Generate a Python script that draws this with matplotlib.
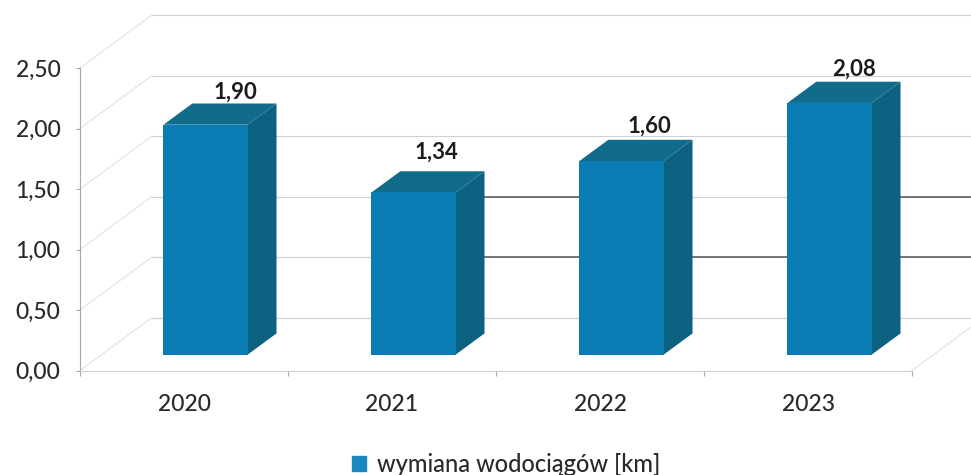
import matplotlib
matplotlib.use("Agg")
import matplotlib.pyplot as plt
from matplotlib.patches import Patch

plt.rcParams['font.family'] = ['Lato', 'DejaVu Sans']

years = ["2020", "2021", "2022", "2023"]
values = [1.90, 1.34, 1.60, 2.08]
value_labels = ["1,90", "1,34", "1,60", "2,08"]
y_ticks = [0.0, 0.5, 1.0, 1.5, 2.0, 2.5]
y_tick_labels = ["0,00", "0,50", "1,00", "1,50", "2,00", "2,50"]
legend_label = "wymiana wodociągów [km]"

# oblique projection, full depth of the plot in data units
DX = 72 / 208
DY = 53 / 121
BAR_W = 0.405

FRONT = "#0a7cb4"
SIDE = "#0d6281"
TOP = "#116b8b"
TEXT = "#2a2a2a"


def proj(x, y, d):
    return x + d * DX, y + d * DY


def face(ax, pts, color, z=3):
    ax.fill([p[0] for p in pts], [p[1] for p in pts], color=color, lw=0, zorder=z, clip_on=False)


fig = plt.figure(figsize=(9.71, 4.75), dpi=100)
ax = fig.add_axes([80 / 971, (475 - 370.5) / 475, 832 / 971, 302.5 / 475])
ax.set_xlim(0, 4)
ax.set_ylim(0, 2.5)

# walls and grid
for v in y_ticks:
    x0, y0 = proj(0, v, 1)
    ax.plot([0, x0], [v, y0], color="#dedede", lw=0.7, zorder=1, clip_on=False)
    ax.plot([x0, 4 + DX], [y0, y0], color="#cfcfcf", lw=0.8, zorder=1, clip_on=False)
ax.plot([4, 4 + DX], [0, DY], color="#dedede", lw=0.7, zorder=1, clip_on=False)

# the darker print of two grid lines between the bars
for v in [0.5, 1.0]:
    y0 = v + DY
    for i in [1, 2, 3]:
        x0 = i + 0.5 - BAR_W / 2 + 0.7 * DX
        x1 = i + 1.5 - BAR_W / 2 + 0.3 * DX if i < 3 else 4 + DX
        if v == 1.0 and i == 2:
            continue
        ax.plot([x0, x1], [y0, y0], color="#606060", lw=1.2, zorder=2, clip_on=False)

# bars
for i, v in enumerate(values):
    x0 = i + 0.5 - BAR_W / 2
    x1 = x0 + BAR_W
    fl = proj(x0, 0, 0.3)
    fr = proj(x1, 0, 0.3)
    ftl = proj(x0, v, 0.3)
    ftr = proj(x1, v, 0.3)
    br = proj(x1, 0, 0.7)
    btr = proj(x1, v, 0.7)
    btl = proj(x0, v, 0.7)
    face(ax, [fr, br, btr, ftr], SIDE)
    face(ax, [ftl, ftr, btr, btl], TOP)
    face(ax, [fl, fr, ftr, ftl], FRONT, z=4)

# value labels sit above the back edge of the bar tops
label_dx = [1, -6, -1, -4]
label_dy = [11, 19, 14, 13]
for i, v in enumerate(values):
    x, y = proj(i + 0.5, v, 0.7)
    ax.annotate(value_labels[i], (x, y), xytext=(label_dx[i] * 0.72, label_dy[i] * 0.72),
                textcoords="offset points", ha="center", va="center",
                fontsize=16, fontweight="bold", color="#1c1c1c", zorder=6, annotation_clip=False)

for s in ["top", "right"]:
    ax.spines[s].set_visible(False)
ax.spines["left"].set_color("#a8a8a8")
ax.spines["bottom"].set_color("#cfcfcf")
ax.spines["left"].set_linewidth(0.8)
ax.spines["bottom"].set_linewidth(0.8)

ax.set_yticks(y_ticks)
ax.set_yticklabels(y_tick_labels, fontsize=16.5, color=TEXT, fontweight="medium")
ax.tick_params(axis="y", length=3, width=0.8, color="#a8a8a8", pad=11)
ax.set_xticks(range(5))
ax.set_xticklabels([])
ax.tick_params(axis="x", which="major", length=3.5, width=0.8, color="#a8a8a8")
ax.set_xticks([i + 0.5 for i in range(4)], minor=True)
ax.set_xticklabels(years, minor=True, fontsize=16.5, color=TEXT, fontweight="medium")
ax.tick_params(axis="x", which="minor", length=0, pad=17)

fig.legend(handles=[Patch(color="#1a86c2", label=legend_label)], loc="center",
           bbox_to_anchor=(506 / 971, 1 - 464 / 475), frameon=False,
           prop={"size": 17, "weight": "medium"}, labelcolor=TEXT,
           handlelength=0.6, handleheight=0.6, handletextpad=0.45)

fig.savefig("out.png", dpi=100, facecolor="white")
